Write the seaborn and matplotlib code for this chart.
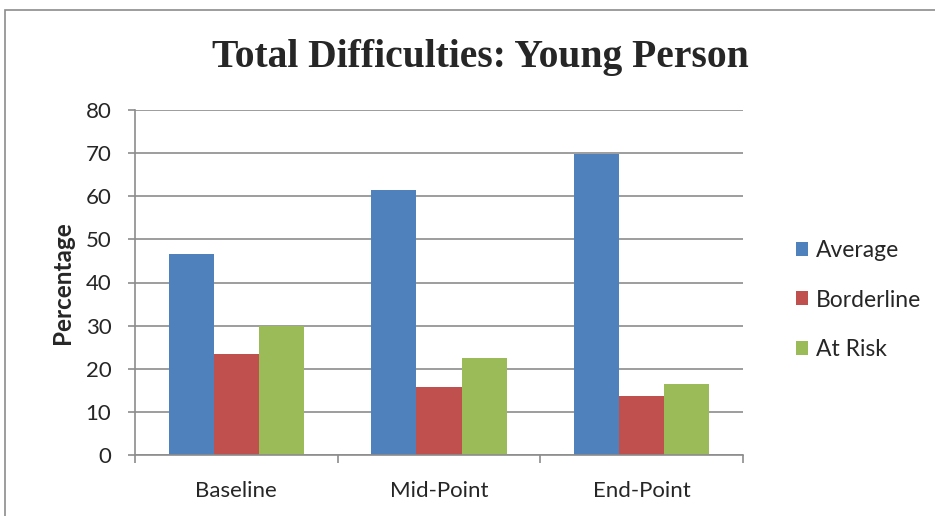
import pandas as pd
import seaborn as sns
import matplotlib.pyplot as plt
from matplotlib.patches import Rectangle

# data
periods = ["Baseline", "Mid-Point", "End-Point"]
groups = ["Average", "Borderline", "At Risk"]
average = [46.6, 61.5, 69.8]
borderline = [23.5, 15.8, 13.6]
at_risk = [29.8, 22.6, 16.5]
colors = ["#4F81BD", "#C0504D", "#9BBB59"]

df = pd.DataFrame({
    "Period": periods * 3,
    "Group": [g for g in groups for _ in periods],
    "Value": average + borderline + at_risk,
})

sns.set_style("white")
plt.rcParams["font.family"] = ["Lato", "DejaVu Sans"]

fig = plt.figure(figsize=(9.35, 5.16), dpi=100)
ax = fig.add_axes([135 / 935, 1 - 455 / 516, 608 / 935, 345 / 516])

sns.barplot(data=df, x="Period", y="Value", hue="Group", order=periods,
            hue_order=groups, palette=colors, width=0.667, edgecolor="none",
            saturation=1, ax=ax)

grid_c = "#8C8C8C"
ax.set_ylim(0, 80)
ax.set_xlim(-0.5, 2.5)
ax.set_yticks(range(0, 81, 10))
ax.yaxis.grid(True, color=grid_c, linewidth=1.2)
ax.set_axisbelow(True)
for s in ["top", "right"]:
    ax.spines[s].set_visible(False)
for s in ["left", "bottom"]:
    ax.spines[s].set_color(grid_c)
    ax.spines[s].set_linewidth(1.2)

ax.set_xticks([-0.5, 0.5, 1.5, 2.5], minor=True)
ax.tick_params(axis="x", which="major", length=0, pad=19, labelsize=16)
ax.tick_params(axis="x", which="minor", length=6, color=grid_c, width=1.2)
ax.tick_params(axis="y", length=5, color=grid_c, width=1.2, pad=12, labelsize=16)
ax.tick_params(axis="y", left=True)
ax.tick_params(axis="x", bottom=True, which="minor")

ax.set_xlabel("")
ax.set_ylabel("Percentage", fontsize=17.5, fontweight="bold", labelpad=8)

fig.text(480 / 935, 1 - 57 / 516, "Total Difficulties: Young Person",
         ha="center", va="center", fontsize=28.5, fontweight="bold",
         family=["Liberation Serif", "DejaVu Serif"])

ax.legend(loc="center left", bbox_to_anchor=(775 / 935, 1 - 300 / 516),
          bbox_transform=fig.transFigure, frameon=False, fontsize=16.5,
          handlelength=0.55, handleheight=0.55, handletextpad=0.35,
          labelspacing=1.24)

fig.add_artist(Rectangle((5 / 935, -0.1), 1.2, 1.1 - 10 / 516 + 0.0,
                         transform=fig.transFigure, fill=False,
                         edgecolor="#8C8C8C", linewidth=1.2))

fig.savefig("out.png", dpi=100)
